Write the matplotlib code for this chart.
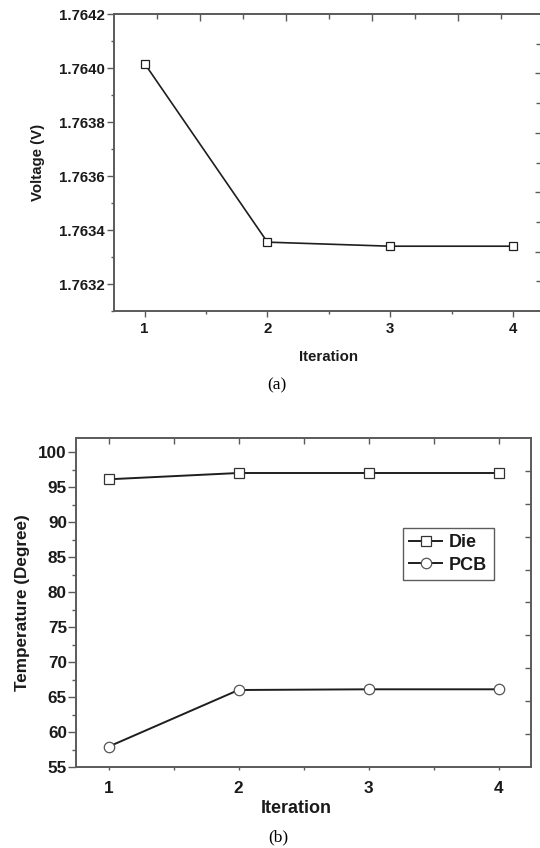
import matplotlib
matplotlib.use('Agg')
import matplotlib.pyplot as plt
from matplotlib.ticker import FormatStrFormatter

# data
iterations = [1, 2, 3, 4]
voltage = [1.764016, 1.763355, 1.763340, 1.763340]
temp_die = [96.1, 97.0, 97.0, 97.0]
temp_pcb = [57.9, 66.0, 66.1, 66.1]

volt_ticks = [1.7632, 1.7634, 1.7636, 1.7638, 1.7640, 1.7642]
temp_ticks = [55, 60, 65, 70, 75, 80, 85, 90, 95, 100]

plt.rcParams['font.family'] = ['Liberation Sans', 'DejaVu Sans']
plt.rcParams['font.weight'] = 'bold'

spine_col = '#5a5a5a'
line_col = '#1e1e1e'
text_col = '#1a1a1a'

fig = plt.figure(figsize=(5.4, 8.48), dpi=100)


def mirror_ticks(ax, fs_major, fs_minor):
    # right / top decoration ticks, Origin style, pointing inwards
    r = ax.twinx()
    r.set_ylim(-1, 9)
    r.set_yticks([1, 3, 5, 7])
    r.set_yticks([0, 2, 4, 6, 8], minor=True)
    r.tick_params(axis='y', which='major', direction='in', length=fs_major, width=1.0,
                  color=spine_col, labelright=False)
    r.tick_params(axis='y', which='minor', direction='in', length=fs_minor, width=1.0,
                  color=spine_col)
    for s in r.spines.values():
        s.set_visible(False)
    return r


def style_axes(ax):
    for s in ax.spines.values():
        s.set_color(spine_col)
        s.set_linewidth(1.4)
    ax.tick_params(which='both', direction='out', color=spine_col, width=1.0,
                   top=False, right=False, labelcolor=text_col)


# ---- (a) voltage ----
ax1 = fig.add_axes([114 / 540, 1 - 311 / 848, 429.6 / 540, 297 / 848])
ax1.plot(iterations, voltage, color=line_col, lw=1.2, marker='s', ms=6,
         mfc='white', mec=line_col, mew=0.9)
ax1.set_xlim(0.75, 4.25)
ax1.set_ylim(1.7631, 1.7642)
ax1.set_xticks(iterations)
ax1.set_xticks([1.5, 2.5, 3.5], minor=True)
ax1.set_yticks(volt_ticks)
ax1.set_yticks([1.7631, 1.7633, 1.7635, 1.7637, 1.7639, 1.7641], minor=True)
ax1.yaxis.set_major_formatter(FormatStrFormatter('%.4f'))
style_axes(ax1)
ax1.tick_params(which='major', length=5, labelsize=10.8, pad=1.5)
ax1.tick_params(which='minor', length=2.5)
ax1.tick_params(axis='x', which='major', length=4, pad=4)
ax1.set_ylabel('Voltage (V)', fontsize=10.8, fontweight='bold', color=text_col)
ax1.set_xlabel('Iteration', fontsize=10.8, fontweight='bold', color=text_col)
ax1.yaxis.set_label_coords(-0.161, 0.5)
ax1.xaxis.set_label_coords(0.5, -0.131)

mirror_ticks(ax1, 6.5, 5.5)
t1 = ax1.twiny()
t1.set_xlim(-1, 9)
t1.set_xticks([1, 3, 5, 7])
t1.set_xticks([0, 2, 4, 6, 8], minor=True)
t1.tick_params(axis='x', which='major', direction='in', length=5, width=1.0,
               color=spine_col, labeltop=False)
t1.tick_params(axis='x', which='minor', direction='in', length=3.5, width=1.0,
               color=spine_col)
for s in t1.spines.values():
    s.set_visible(False)

fig.text(277 / 540, 1 - 385 / 848, '(a)', ha='center', va='center',
         family='Liberation Serif', fontweight='normal', fontsize=12.5, color='black')

# ---- (b) temperature ----
ax2 = fig.add_axes([76 / 540, 1 - 767 / 848, 455 / 540, 329 / 848])
ax2.plot(iterations, temp_die, color=line_col, lw=1.4, marker='s', ms=7,
         mfc='white', mec='#333333', mew=0.9, label='Die')
ax2.plot(iterations, temp_pcb, color=line_col, lw=1.4, marker='o', ms=7.5,
         mfc='white', mec='#555555', mew=0.9, label='PCB')
ax2.set_xlim(0.75, 4.25)
ax2.set_ylim(55, 102)
ax2.set_xticks(iterations)
ax2.set_xticks([1.5, 2.5, 3.5], minor=True)
ax2.set_yticks(temp_ticks)
ax2.set_yticks([57.5 + 5 * i for i in range(9)], minor=True)
style_axes(ax2)
ax2.tick_params(which='major', length=5.5, labelsize=12.3, pad=1)
ax2.tick_params(which='minor', length=3)
ax2.tick_params(axis='x', which='major', length=2, pad=8)
ax2.tick_params(axis='x', which='minor', length=2)
ax2.set_ylabel('Temperature (Degree)', fontsize=12.3, fontweight='bold', color=text_col)
ax2.set_xlabel('Iteration', fontsize=13, fontweight='bold', color=text_col)
ax2.yaxis.set_label_coords(-0.1, 0.5)
ax2.xaxis.set_label_coords(0.484, -0.1)

mirror_ticks(ax2, 4.5, 4.5)
t2 = ax2.secondary_xaxis('top')
t2.set_xticks(iterations)
t2.set_xticks([1.5, 2.5, 3.5], minor=True)
t2.tick_params(axis='x', which='both', direction='in', length=4.5, width=1.0,
               color=spine_col, labeltop=False)
t2.spines['top'].set_visible(False)

leg = ax2.legend(loc='upper left', bbox_to_anchor=(0.719, 0.727), fancybox=False,
                 frameon=True, fontsize=13, handlelength=1.8, handletextpad=0.4,
                 borderpad=0.35, labelspacing=0.3, borderaxespad=0)
leg.get_frame().set_edgecolor('#333333')
leg.get_frame().set_linewidth(1.0)
for t in leg.get_texts():
    t.set_color(text_col)

fig.text(278 / 540, 1 - 837 / 848, '(b)', ha='center', va='center',
         family='Liberation Serif', fontweight='normal', fontsize=12.5, color='black')

fig.savefig('out.png', dpi=100)
